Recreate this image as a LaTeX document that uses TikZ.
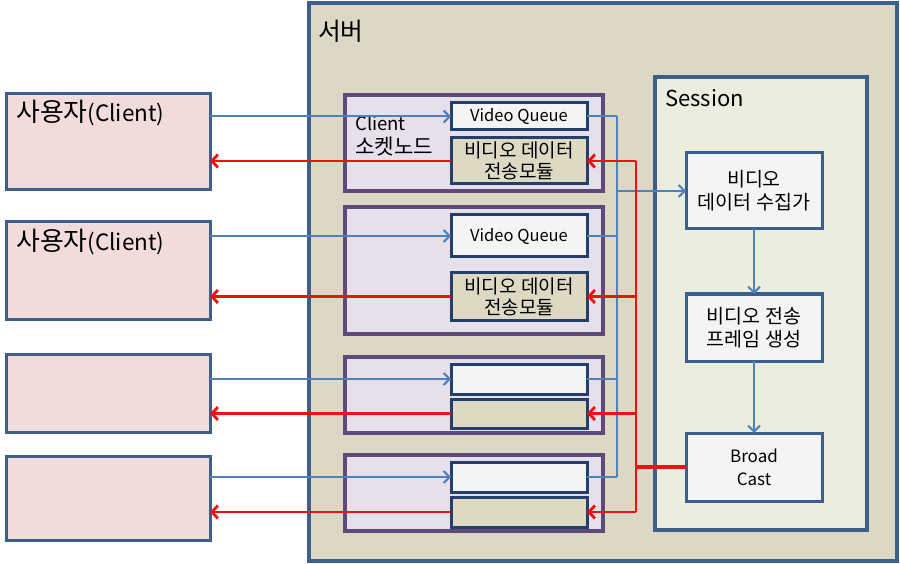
\documentclass[tikz,border=0pt]{standalone}
\usepackage{fontspec}
\setmainfont{Noto Sans CJK KR}
\newfontfamily\ko[Scale=1.15]{Noto Sans CJK KR}
\usetikzlibrary{arrows.meta}
\definecolor{srvfill}{HTML}{DDD8C5}
\definecolor{srvline}{HTML}{3E5F8A}
\definecolor{sesfill}{HTML}{EBEEDF}
\definecolor{usrfill}{HTML}{F2DCDB}
\definecolor{sockfill}{HTML}{E6E0EC}
\definecolor{sockline}{HTML}{5F497A}
\definecolor{qfill}{HTML}{F3F4F6}
\definecolor{tmfill}{HTML}{DDD9C3}
\definecolor{inline}{HTML}{24406A}
\definecolor{blueln}{HTML}{4F81BD}
\definecolor{redln}{HTML}{F01010}
\tikzset{
  bx/.style={rectangle, anchor=north west, inner sep=0pt, outer sep=0pt},
  serverbox/.style={bx, draw=srvline, fill=srvfill, line width=4pt},
  sessionbox/.style={bx, draw=srvline, fill=sesfill, line width=3.5pt},
  userbox/.style={bx, draw=srvline, fill=usrfill, line width=3pt},
  sockbox/.style={bx, draw=sockline, fill=sockfill, line width=3.5pt},
  qbox/.style={bx, draw=inline, fill=qfill, line width=3pt, font=\fontsize{16.5}{19}\selectfont, align=center},
  tmbox/.style={bx, draw=inline, fill=tmfill, line width=3pt, font=\fontsize{16.5}{21}\selectfont, align=center},
  sbox/.style={bx, draw=srvline, fill=qfill, line width=3pt, font=\fontsize{17}{23}\selectfont, align=center},
  lbl/.style={anchor=west, inner sep=0pt, align=left},
  bluearrow/.style={draw=blueln, line width=2pt, -{Straight Barb[length=6pt,width=12pt]}},
  blueline/.style={draw=blueln, line width=2pt},
  redarrow/.style={draw=redln, line width=2.8pt, -{Straight Barb[length=6pt,width=13pt]}},
  redline/.style={draw=redln, line width=2.8pt},
}
\begin{document}
\begin{tikzpicture}[x=1pt,y=-1pt]
\useasboundingbox (0,0) rectangle (900,564);
% server
\node[serverbox, minimum width=588pt, minimum height=558pt] (srv) at (309,3) {};
\node[lbl, font=\fontsize{21.5}{24}\selectfont] (srvl) at (318,31) {\ko 서버};
% session
\node[sessionbox, minimum width=212pt, minimum height=453pt] (ses) at (655,77) {};
\node[lbl, font=\fontsize{22}{24}\selectfont] (sesl) at (665,98) {Session};
% users
\node[userbox, minimum width=204pt, minimum height=96pt] (u1) at (6,94) {};
\node[userbox, minimum width=204pt, minimum height=97pt] (u2) at (6,222) {};
\node[userbox, minimum width=204pt, minimum height=78pt] (u3) at (6,354) {};
\node[userbox, minimum width=204pt, minimum height=84pt] (u4) at (6,456) {};
\node[lbl, font=\fontsize{22.5}{24}\selectfont] (u1l) at (16,113) {{\ko 사용자}(Client)};
\node[lbl, font=\fontsize{22.5}{24}\selectfont] (u2l) at (16,242) {{\ko 사용자}(Client)};
% sockets
\node[sockbox, minimum width=258pt, minimum height=96pt] (s1) at (345,95) {};
\node[sockbox, minimum width=258pt, minimum height=127pt] (s2) at (345,207) {};
\node[sockbox, minimum width=258pt, minimum height=76pt] (s3) at (345,357) {};
\node[sockbox, minimum width=258pt, minimum height=76pt] (s4) at (345,455) {};
\node[lbl, font=\fontsize{18.5}{24}\selectfont] (s1l) at (355,136) {Client\\{\ko 소켓노드}};
% queues and modules
\node[qbox, minimum width=136pt, minimum height=27pt] (q1) at (451,103) {Video Queue};
\node[tmbox, minimum width=136pt, minimum height=46pt] (t1) at (451,138) {\ko 비디오 데이터\\\ko 전송모듈};
\node[qbox, minimum width=136pt, minimum height=42pt] (q2) at (451,215) {Video Queue};
\node[tmbox, minimum width=136pt, minimum height=47pt] (t2) at (451,273) {\ko 비디오 데이터\\\ko 전송모듈};
\node[qbox, minimum width=136pt, minimum height=30pt] (q3) at (451,364) {};
\node[tmbox, minimum width=136pt, minimum height=29pt] (t3) at (451,399) {};
\node[qbox, minimum width=136pt, minimum height=30pt] (q4) at (451,462) {};
\node[tmbox, minimum width=136pt, minimum height=30pt] (t4) at (451,497) {};
% session boxes
\node[sbox, minimum width=136pt, minimum height=76pt] (col) at (686,153) {\ko 비디오\\\ko 데이터 수집가};
\node[sbox, minimum width=136pt, minimum height=67pt] (frm) at (686,294) {\ko 비디오 전송\\\ko 프레임 생성};
\node[sbox, minimum width=136pt, minimum height=68pt] (bc) at (686,433) {Broad\\Cast};
% bus coordinates
\coordinate (bb) at (617,0);
\coordinate (rb) at (636,0);
% blue connectors
\foreach \i in {1,2,3,4}{
  \draw[bluearrow] (q\i.west -| u\i.east) -- (q\i.west);
  \draw[blueline] (q\i.east) -- (q\i.east -| bb);
}
\draw[blueline] (q1.east -| bb) -- (q4.east -| bb);
\draw[bluearrow] (col.west -| bb) -- (col.west);
\draw[bluearrow] (col.south) -- (frm.north);
\draw[bluearrow] (frm.south) -- (bc.north);
% red connectors
\draw[redline] (t1.east -| rb) -- (t4.east -| rb);
\draw[redline, line width=3.5pt] (bc.west) -- (bc.west -| rb);
\foreach \i in {1,2,3,4}{
  \draw[redarrow] (t\i.east -| rb) -- (t\i.east);
  \draw[redarrow] (t\i.west) -- (t\i.west -| u\i.east);
}
\end{tikzpicture}
\end{document}
